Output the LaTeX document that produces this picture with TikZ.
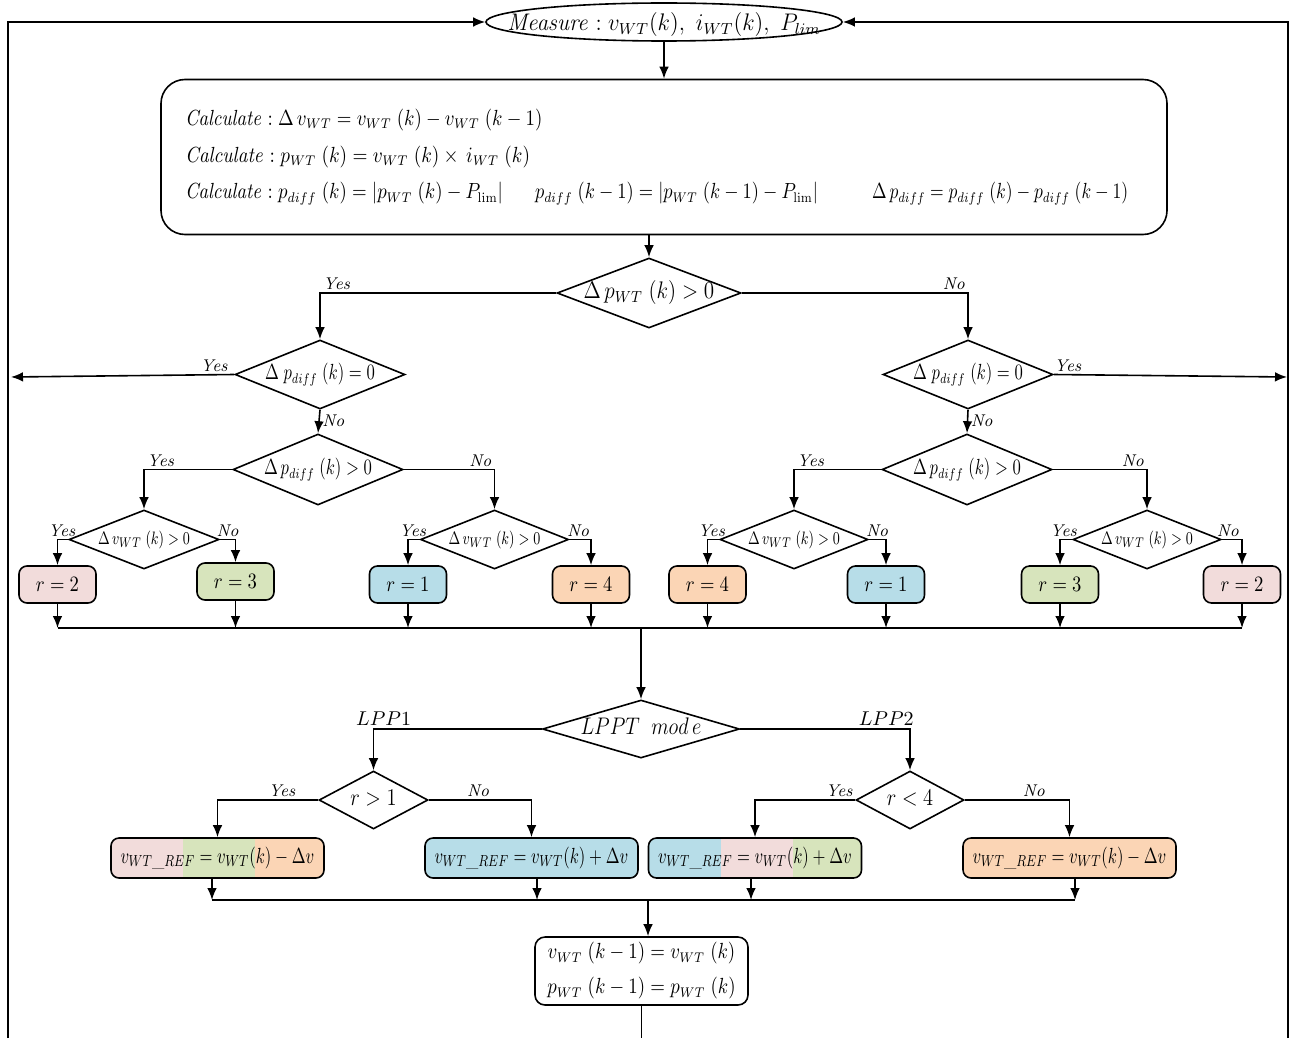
\documentclass[tikz,border=0pt]{standalone}
\usepackage{graphicx}
\usetikzlibrary{arrows.meta,shapes.geometric}
\definecolor{pinkc}{HTML}{F2DCDB}
\definecolor{greenc}{HTML}{D7E4BC}
\definecolor{bluec}{HTML}{B7DDE8}
\definecolor{orangec}{HTML}{FBD5B5}
\tikzset{
  arr/.style={-{Latex[length=6pt,width=4.8pt]}},
  dia/.style={draw, diamond, inner sep=0pt},
  rbox/.style={draw, rounded corners=4pt, minimum width=38.5pt, minimum height=18.5pt, inner sep=0pt, font=\fontsize{11}{12}\selectfont},
  vbox/.style={draw, rounded corners=4pt, minimum width=106.5pt, minimum height=20pt, inner sep=0pt, font=\fontsize{11}{12}\selectfont},
  lbl/.style={font=\fontsize{8.5}{9}\selectfont\itshape, inner sep=1.2pt},
  lblb/.style={font=\fontsize{10}{11}\selectfont, inner sep=1.2pt},
  seg3/.style n args={3}{path picture={
     \fill[#1, sharp corners] (path picture bounding box.south west) rectangle ([xshift=36pt]path picture bounding box.north west);
     \fill[#2, sharp corners] ([xshift=36pt]path picture bounding box.south west) rectangle ([xshift=72pt]path picture bounding box.north west);
     \fill[#3, sharp corners] ([xshift=72pt]path picture bounding box.south west) rectangle (path picture bounding box.north east);}},
}
\newcommand{\zt}[1]{\smash{\makebox[0pt]{\raisebox{-0.6ex}{#1}}}}
\newcommand{\cz}[2]{\scalebox{#1}[1]{#2}}
\begin{document}
\begin{tikzpicture}[x=0.5pt,y=-0.5pt,line width=0.8pt]
\useasboundingbox (0,0) rectangle (1293,1038);

% top
\node[draw, ellipse, minimum width=178pt, minimum height=19pt, inner sep=0pt, font=\fontsize{11.5}{13}\selectfont] (meas) at (664,22)
  {\zt{\raisebox{-1.5pt}{\cz{0.95}{$\mathit{Measure}:v_{WT}(k),\ i_{WT}(k),\ P_{lim}$}}}};

\node[draw, rounded corners=12pt, minimum width=503pt, minimum height=77.5pt, inner xsep=12pt, inner ysep=0pt,
      text width=479pt, align=left, font=\fontsize{10.5}{18.3}\selectfont] (calc) at (664,157)
  {\cz{0.86}{$\mathit{Calculate}:\Delta\,v_{WT}=v_{WT}\;(k)-v_{WT}\;(k-1)$}\\
   \cz{0.88}{$\mathit{Calculate}:p_{WT}\;(k)=v_{WT}\;(k)\times\,i_{WT}\;(k)$}\\
   \makebox[175pt][l]{\cz{0.86}{$\mathit{Calculate}:p_{diff}\;(k)=\left|p_{WT}\;(k)-P_{\mathrm{lim}}\right|$}}%
   \makebox[168.5pt][l]{\cz{0.84}{$p_{diff}\;(k-1)=\left|p_{WT}\;(k-1)-P_{\mathrm{lim}}\right|$}}%
   \cz{0.8}{$\Delta\,p_{diff}=p_{diff}\;(k)-p_{diff}\;(k-1)$}};

% decision diamonds
\node[dia, minimum width=92pt, minimum height=35pt, font=\fontsize{11.5}{12}\selectfont] (d0) at (649,293) {\zt{\cz{0.88}{$\Delta\,p_{WT}\;(k)>0$}}};
\node[dia, minimum width=85pt, minimum height=34.5pt, font=\fontsize{10.5}{11}\selectfont] (l1) at (320,374.5) {\zt{\cz{0.76}{$\Delta\;p_{diff}\;(k)=0$}}};
\node[dia, minimum width=85pt, minimum height=34.5pt, font=\fontsize{10.5}{11}\selectfont] (r1) at (968,374.5) {\zt{\cz{0.76}{$\Delta\;p_{diff}\;(k)=0$}}};
\node[dia, minimum width=85pt, minimum height=35.5pt, font=\fontsize{10.5}{11}\selectfont] (l2) at (318,469.5) {\zt{\cz{0.76}{$\Delta\,p_{diff}\;(k)>0$}}};
\node[dia, minimum width=85pt, minimum height=35.5pt, font=\fontsize{10.5}{11}\selectfont] (r2) at (967,469.5) {\zt{\cz{0.76}{$\Delta\,p_{diff}\;(k)>0$}}};

\node[dia, minimum width=75pt, minimum height=29.5pt, font=\fontsize{9.5}{10}\selectfont] (ll) at (144,539.5) {\zt{\cz{0.76}{$\Delta\,v_{WT}\;(k)>0$}}};
\node[dia, minimum width=74pt, minimum height=29.5pt, font=\fontsize{9.5}{10}\selectfont] (lr) at (494.5,539.5) {\zt{\cz{0.76}{$\Delta\,v_{WT}\;(k)>0$}}};
\node[dia, minimum width=74pt, minimum height=29.5pt, font=\fontsize{9.5}{10}\selectfont] (rl) at (794,539.5) {\zt{\cz{0.76}{$\Delta\,v_{WT}\;(k)>0$}}};
\node[dia, minimum width=74pt, minimum height=29.5pt, font=\fontsize{9.5}{10}\selectfont] (rr) at (1147,539.5) {\zt{\cz{0.76}{$\Delta\,v_{WT}\;(k)>0$}}};

% r boxes
\node[rbox, fill=pinkc]   (b1) at (57.5,584.5) {\cz{0.85}{$r=2$}};
\node[rbox, fill=greenc]  (b2) at (235.5,581.5) {\cz{0.85}{$r=3$}};
\node[rbox, fill=bluec]   (b3) at (408,584.5) {\cz{0.85}{$r=1$}};
\node[rbox, fill=orangec] (b4) at (591,584.5) {\cz{0.85}{$r=4$}};
\node[rbox, fill=orangec] (b5) at (707.5,584.5) {\cz{0.85}{$r=4$}};
\node[rbox, fill=bluec]   (b6) at (886,584.5) {\cz{0.85}{$r=1$}};
\node[rbox, fill=greenc]  (b7) at (1060,584.5) {\cz{0.85}{$r=3$}};
\node[rbox, fill=pinkc]   (b8) at (1242,584.5) {\cz{0.85}{$r=2$}};

% LPPT part
\node[dia, minimum width=98.5pt, minimum height=29pt, font=\fontsize{11.5}{12}\selectfont] (lm) at (641,729) {\zt{\cz{0.85}{$LPPT\;\;mod\,e$}}};
\node[dia, minimum width=54.5pt, minimum height=29pt, font=\fontsize{11.5}{12}\selectfont] (q1) at (373.5,800) {\zt{\cz{0.85}{$r>1$}}};
\node[dia, minimum width=54pt, minimum height=29pt, font=\fontsize{11.5}{12}\selectfont] (q2) at (910,800) {\zt{\cz{0.85}{$r<4$}}};

\node[vbox, seg3={pinkc}{greenc}{orangec}] (c1) at (217.5,858) {\cz{0.76}{$v_{WT\_REF}=v_{WT}(k)-\Delta v$}};
\node[vbox, fill=bluec] (c2) at (531.5,858) {\cz{0.76}{$v_{WT\_REF}=v_{WT}(k)+\Delta v$}};
\node[vbox, seg3={bluec}{pinkc}{greenc}] (c3) at (755,858) {\cz{0.76}{$v_{WT\_REF}=v_{WT}(k)+\Delta v$}};
\node[vbox, fill=orangec] (c4) at (1069.5,858) {\cz{0.76}{$v_{WT\_REF}=v_{WT}(k)-\Delta v$}};

\node[draw, rounded corners=5pt, minimum width=106.5pt, minimum height=34pt, inner sep=0pt, align=center,
      font=\fontsize{10.5}{17.5}\selectfont] (fin) at (641.5,971)
  {\cz{0.86}{$v_{WT}\;(k-1)=v_{WT}\;(k)$}\\\cz{0.86}{$p_{WT}\;(k-1)=p_{WT}\;(k)$}};

% coordinates
\coordinate (ol) at (8,1038);
\coordinate (orr) at (1288,1038);
\coordinate (lx) at (11,377);
\coordinate (rx) at (1287,377);
\coordinate (j1) at (641,628);
\coordinate (j2) at (648,900);
\coordinate (fe) at (641.5,1038);

% connectors
\draw[arr] (ol) |- (meas.west);
\draw[arr] (orr) |- (meas.east);
\draw[arr] (meas.south) -- (calc.north);
\draw[arr] (calc.south -| d0.north) -- (d0.north);
\draw[arr] (d0.west) -| node[lbl, above right]{Yes} (l1.north);
\draw[arr] (d0.east) -| node[lbl, above left]{No} (r1.north);
\draw[arr] (l1.west) -- node[lbl, above, pos=0.09]{Yes} (lx);
\draw[arr] (r1.east) -- node[lbl, above, pos=0.06]{Yes} (rx);
\draw[arr] (l1.south) -- node[lbl, right, pos=0.45]{No} (l2.north);
\draw[arr] (r1.south) -- node[lbl, right, pos=0.45]{No} (r2.north);
\draw[arr] (l2.west) -| node[lbl, above right]{Yes} (ll.north);
\draw[arr] (l2.east) -| node[lbl, above left]{No} (lr.north);
\draw[arr] (r2.west) -| node[lbl, above right]{Yes} (rl.north);
\draw[arr] (r2.east) -| node[lbl, above left]{No} (rr.north);

\draw[arr] (ll.west) -| node[lbl, above, pos=0.3]{Yes} (b1.north);
\draw[arr] (ll.east) -| node[lbl, above, pos=0.25]{No} (b2.north);
\draw[arr] (lr.west) -| node[lbl, above, pos=0.3]{Yes} (b3.north);
\draw[arr] (lr.east) -| node[lbl, above, pos=0.2]{No} (b4.north);
\draw[arr] (rl.west) -| node[lbl, above, pos=0.33]{Yes} (b5.north);
\draw[arr] (rl.east) -| node[lbl, above, pos=0.24]{No} (b6.north);
\draw[arr] (rr.west) -| node[lbl, above, pos=0.36]{Yes} (b7.north);
\draw[arr] (rr.east) -| node[lbl, above, pos=0.15]{No} (b8.north);

\foreach \b in {b1,b2,b3,b4,b5,b6,b7,b8}
  \draw[arr] (\b.south) -- (\b.south |- j1);
\draw (b1.south |- j1) -- (b8.south |- j1);
\draw[arr] (j1) -- (lm.north);

\draw[arr] (lm.west) -| node[lblb, above, pos=0.47]{$LPP1$} (q1.north);
\draw[arr] (lm.east) -| node[lblb, above, pos=0.43]{$LPP2$} (q2.north);
\draw[arr] (q1.west) -| node[lbl, above, pos=0.18]{Yes} (c1.north);
\draw[arr] (q1.east) -| node[lbl, above, pos=0.24]{No} (c2.north);
\draw[arr] (q2.west) -| node[lbl, above, pos=0.08]{Yes} (c3.north);
\draw[arr] (q2.east) -| node[lbl, above, pos=0.33]{No} (c4.north);

\draw[arr] ([xshift=-2.75pt]c1.south) -- ([xshift=-2.75pt]c1.south |- j2);
\draw[arr] ([xshift=2.75pt]c2.south) -- ([xshift=2.75pt]c2.south |- j2);
\draw[arr] ([xshift=-2pt]c3.south) -- ([xshift=-2pt]c3.south |- j2);
\draw[arr] ([xshift=2.75pt]c4.south) -- ([xshift=2.75pt]c4.south |- j2);
\draw ([xshift=-2.75pt]c1.south |- j2) -- ([xshift=2.75pt]c4.south |- j2);
\draw[arr] (j2) -- (j2 |- fin.north);
\draw (fin.south) -- (fe);
\end{tikzpicture}
\end{document}
